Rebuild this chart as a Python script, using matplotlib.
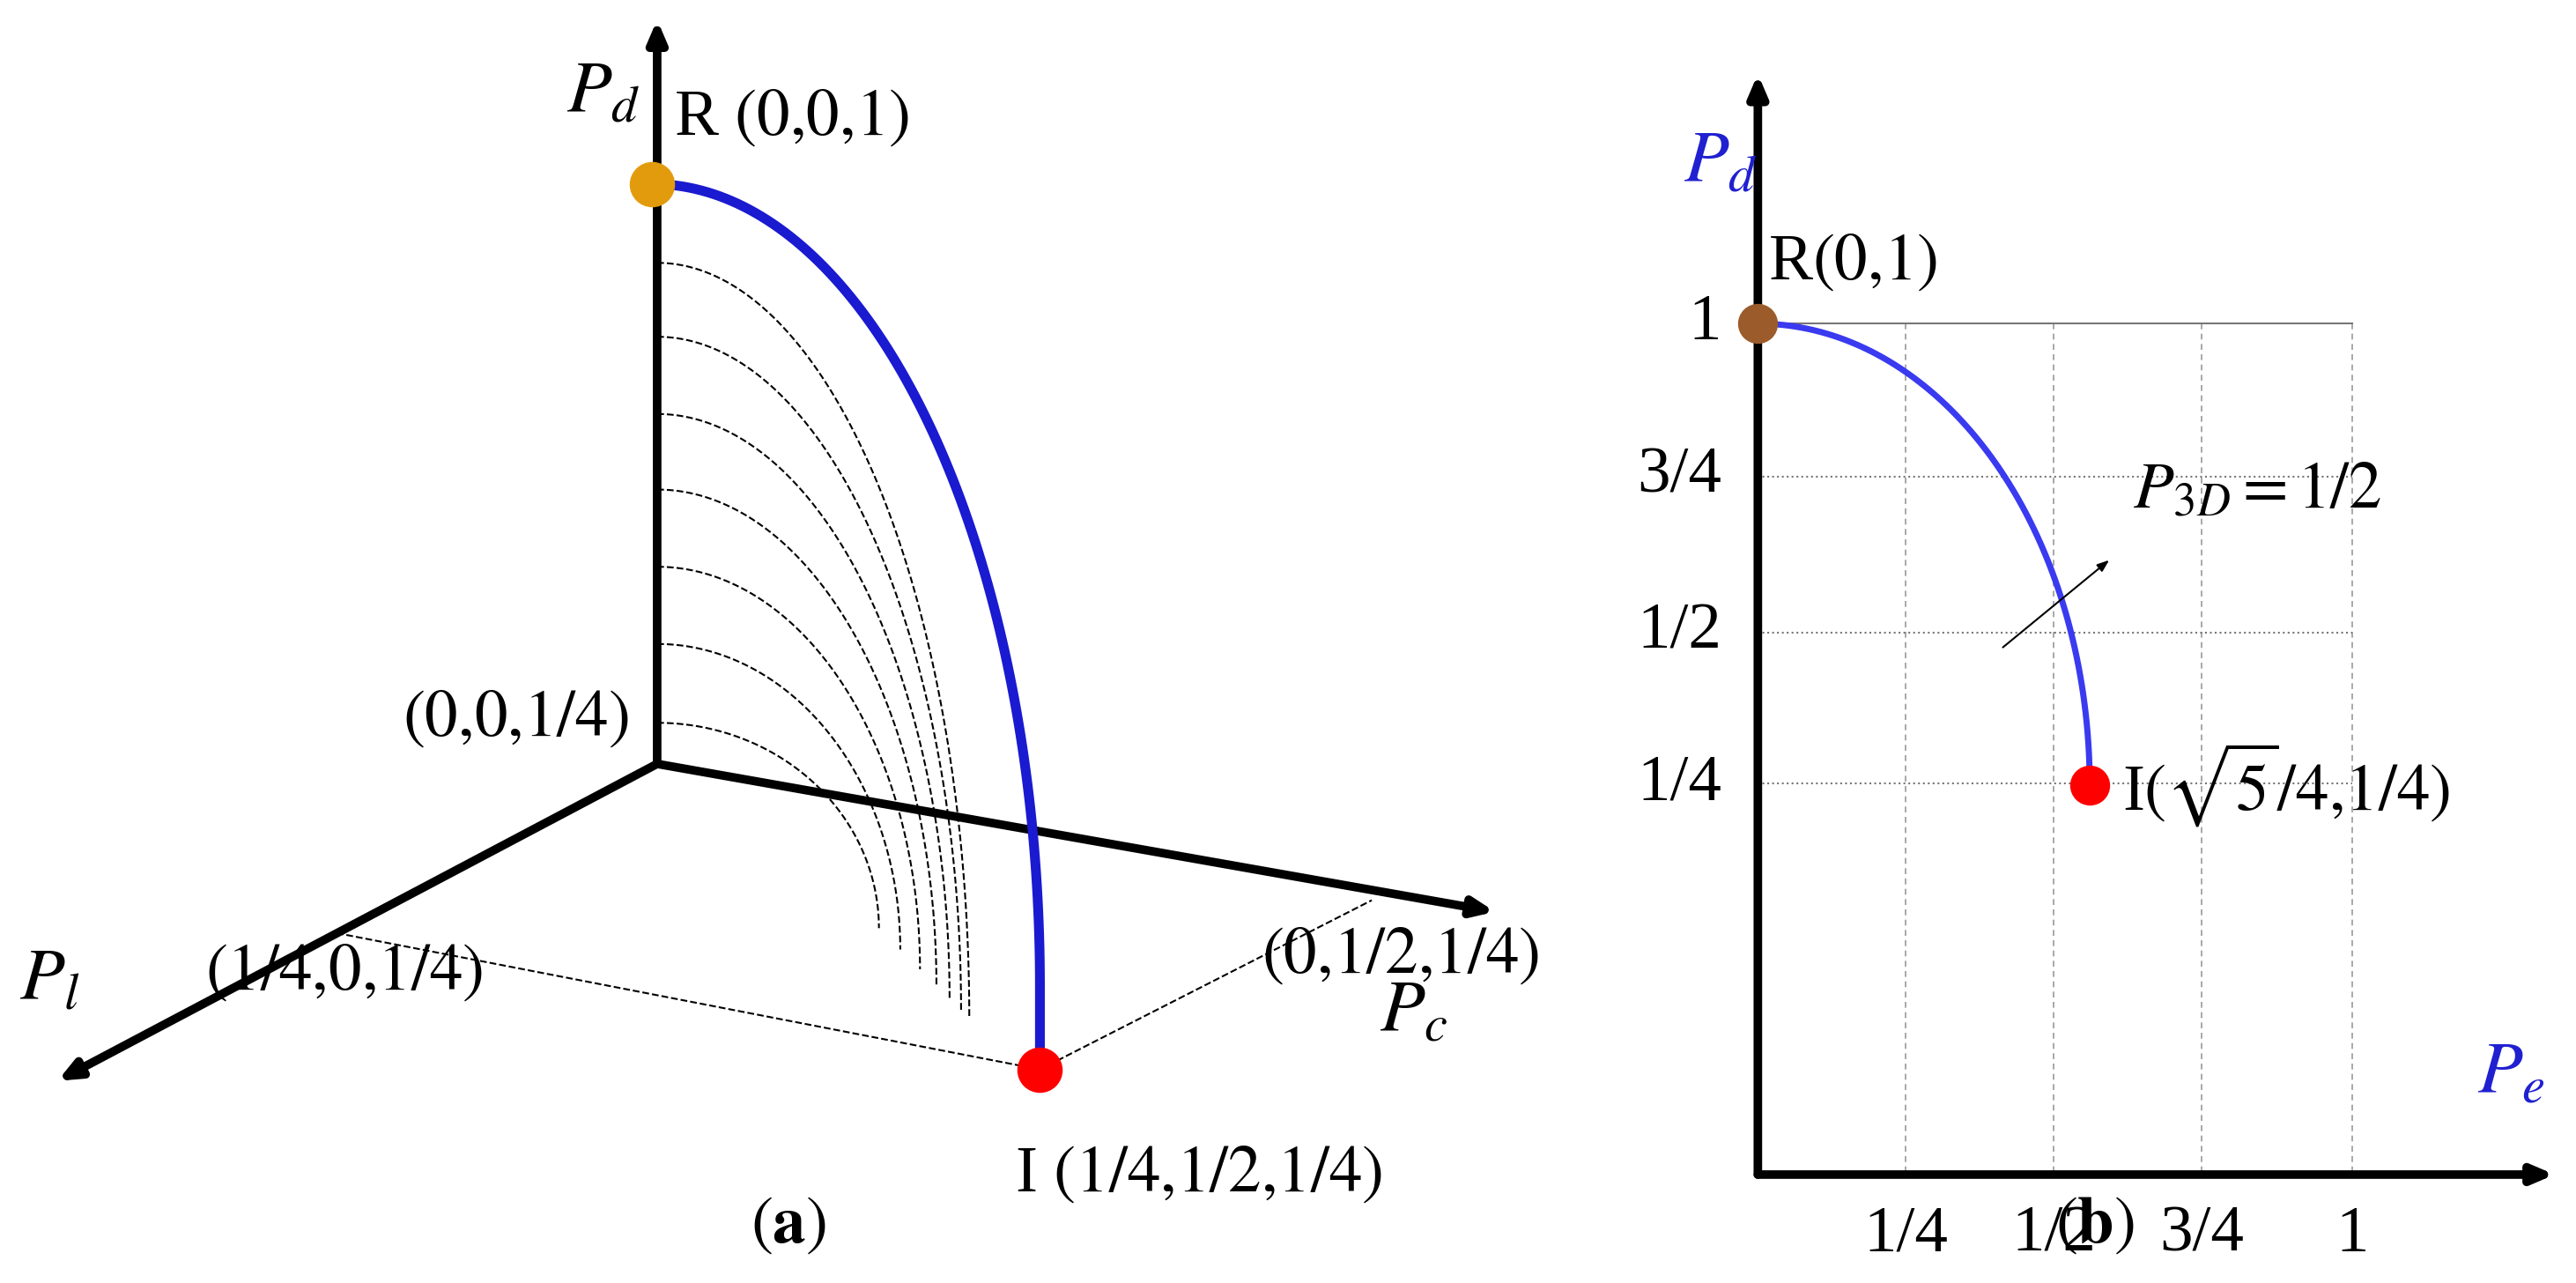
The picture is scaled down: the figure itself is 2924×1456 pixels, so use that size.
import numpy as np
import matplotlib
matplotlib.use("Agg")
import matplotlib.pyplot as plt

plt.rcParams['font.family'] = ['Liberation Serif', 'DejaVu Serif']
plt.rcParams['mathtext.fontset'] = 'stix'

# Schematic key points (reference pixel coordinates at 1568-wide scale)
origin_a = (400, 465)
pd_tip = (400, 12)
pc_tip = (910, 555)
pl_tip = (35, 658)
R_a = (397, 112)
I_a = (633, 651)
pl_mark = (205, 568)
pc_mark = (835, 548)
dash_starts = [160, 205, 252, 298, 345, 392, 440]
dash_ends_x = [590, 585, 578, 570, 560, 548, 535]
dash_ends_y = [620, 615, 608, 600, 590, 578, 565]

origin_b = (1070, 715)
xtick_labels = ['1/4', '1/2', '3/4', '1']
xtick_pos = [1160, 1250, 1340, 1432]
ytick_labels = ['1', '3/4', '1/2', '1/4']
ytick_pos = [197, 290, 385, 477]
R_b = (1070, 197)
I_b = (1272, 478)

fig = plt.figure(figsize=(29.24, 14.56), dpi=100)
ax = fig.add_axes([0, 0, 1, 1])
ax.set_xlim(0, 1568)
ax.set_ylim(781, 0)
ax.axis('off')

FS = 54
arrow_kw = dict(arrowstyle='-|>,head_length=1.4,head_width=0.6', lw=7, color='black', shrinkA=0, shrinkB=0)
# ---- panel (a) ----
for tip in (pd_tip, pc_tip, pl_tip):
    ax.annotate('', xy=tip, xytext=origin_a, arrowprops=arrow_kw)
t = np.linspace(0, np.pi / 2, 100)
for y0, xe, ye in zip(dash_starts, dash_ends_x, dash_ends_y):
    ax.plot(400 + (xe - 400) * np.sin(t), ye - (ye - y0) * np.cos(t), ls='--', color='black', lw=1.5)
ax.plot([pl_mark[0], I_a[0]], [pl_mark[1], I_a[1]], ls='--', color='black', lw=1.5)
ax.plot([I_a[0], pc_mark[0]], [I_a[1], pc_mark[1]], ls='--', color='black', lw=1.5)
cy = 600
bx = np.concatenate([R_a[0] + (I_a[0] - R_a[0]) * np.sin(t), [I_a[0]]])
by = np.concatenate([cy - (cy - R_a[1]) * np.cos(t), [I_a[1]]])
ax.plot(bx, by, color='#1a1ad0', lw=8, solid_capstyle='round', zorder=3)
ax.scatter(*R_a, s=1300, color='#E39B0E', zorder=4)
ax.scatter(*I_a, s=1300, color='#FF0000', zorder=4)

ax.text(345, 58, r'$P_d$', fontsize=FS + 6, ha='left', va='center')
ax.text(410, 72, r'R $(0{,}0{,}1)$', fontsize=FS, ha='left', va='center')
ax.text(245, 438, r'$(0{,}0{,}1/4)$', fontsize=FS, ha='left', va='center')
ax.text(125, 592, r'$(1/4{,}0{,}1/4)$', fontsize=FS, ha='left', va='center')
ax.text(768, 582, r'$(0{,}1/2{,}1/4)$', fontsize=FS, ha='left', va='center')
ax.text(840, 617, r'$P_c$', fontsize=FS + 6, ha='left', va='center')
ax.text(12, 598, r'$P_l$', fontsize=FS + 6, ha='left', va='center')
ax.text(618, 715, r'I $(1/4{,}1/2{,}1/4)$', fontsize=FS, ha='left', va='center')
ax.text(480, 746, r'$(\mathbf{a})$', fontsize=FS, ha='center', va='center')

# ---- panel (b) ----
for xp in xtick_pos:
    ax.plot([xp, xp], [ytick_pos[0], origin_b[1]], color='#999999', lw=1.2, ls=(0, (4, 3)))
for i, yp in enumerate(ytick_pos):
    ax.plot([origin_b[0], xtick_pos[-1]], [yp, yp], color='#777777', lw=1.5, ls='-' if i == 0 else ':')
ax.annotate('', xy=(origin_b[0], 45), xytext=origin_b, arrowprops=arrow_kw)
ax.annotate('', xy=(1555, origin_b[1]), xytext=origin_b, arrowprops=arrow_kw)
for lab, xp in zip(xtick_labels, xtick_pos):
    ax.text(xp, 752, lab, fontsize=FS, ha='center', va='center')
for lab, yp in zip(ytick_labels, ytick_pos):
    ax.text(1048, yp, lab, fontsize=FS, ha='right', va='center')
cbx = R_b[0] + (I_b[0] - R_b[0]) * np.sin(t)
cby = I_b[1] - (I_b[1] - R_b[1]) * np.cos(t)
ax.plot(cbx, cby, color='#3a3af0', lw=5, zorder=3)
ax.scatter(*R_b, s=1000, color='#9B5B2A', zorder=4)
ax.scatter(*I_b, s=1000, color='#FF0000', zorder=4)
ax.annotate('', xy=(1285, 340), xytext=(1218, 395),
            arrowprops=dict(arrowstyle='-|>,head_length=0.8,head_width=0.3', lw=1.5, color='black'))
ax.text(1298, 300, r'$P_{3D}=1/2$', fontsize=FS, ha='left', va='center')
ax.text(1025, 100, r'$P_d$', fontsize=FS + 6, ha='left', va='center', color='#2020d0')
ax.text(1508, 655, r'$P_e$', fontsize=FS + 6, ha='left', va='center', color='#2020d0')
ax.text(1076, 160, r'R$(0{,}1)$', fontsize=FS, ha='left', va='center')
ax.text(1292, 478, r'I$(\sqrt{5}/4{,}1/4)$', fontsize=FS, ha='left', va='center')
ax.text(1275, 746, r'$(\mathbf{b})$', fontsize=FS, ha='center', va='center')

fig.savefig('out.png', dpi=100)
